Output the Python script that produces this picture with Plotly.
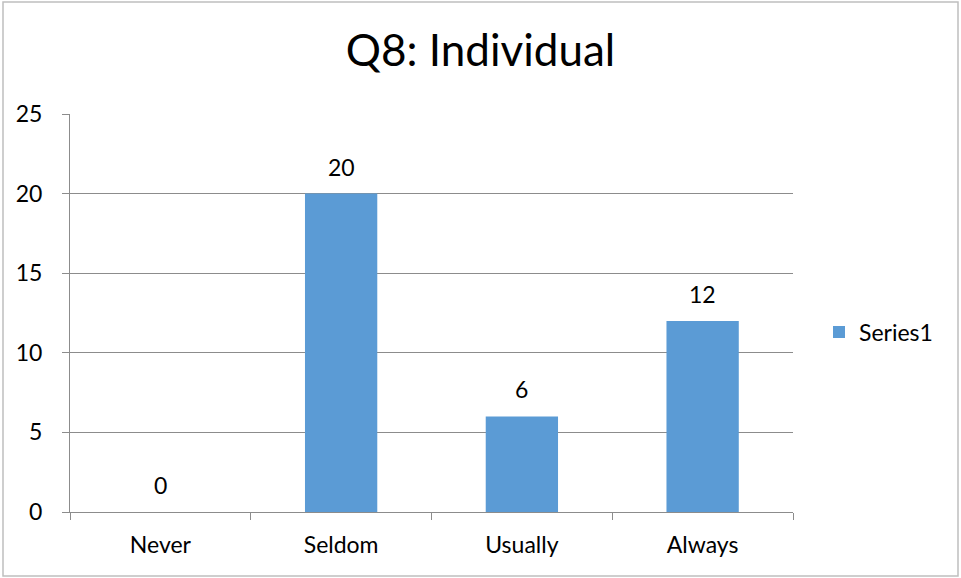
import plotly.graph_objects as go

categories = ["Never", "Seldom", "Usually", "Always"]
values = [0, 20, 6, 12]
series_name = "Series1"
title_text = "Q8: Individual"
y_ticks = [0, 5, 10, 15, 20, 25]

W, H = 961, 578
L, R, T, B = 70, 793, 114, 512
pw, ph = R - L, B - T

FONT = "Lato"
GRID = "#8C8C8C"
BAR = "#5B9BD5"

fig = go.Figure()
fig.add_trace(go.Bar(
    x=categories, y=values, name=series_name,
    marker=dict(color=BAR, line=dict(width=0)),
    width=0.4,
    showlegend=True,
))

# data labels placed above bars via the data axes
for c, v in zip(categories, values):
    fig.add_annotation(x=c, y=v, xref="x", yref="y", text=str(v), showarrow=False,
                       yanchor="middle", yshift=27,
                       font=dict(family=FONT, size=23, color="#000000"))

fig.update_layout(
    width=W, height=H,
    margin=dict(l=L, r=W - R, t=T, b=H - B, pad=0),
    paper_bgcolor="white", plot_bgcolor="white",
    title=dict(text=title_text, x=0.5, xanchor="center", y=1 - 51 / H, yanchor="middle",
               font=dict(family=FONT, size=44, color="#000000")),
    font=dict(family=FONT, color="#000000"),
    showlegend=True,
    legend=dict(x=(819 - L) / pw, xanchor="left", y=(B - 332) / ph, yanchor="middle",
                font=dict(family=FONT, size=23, color="#000000"),
                bgcolor="rgba(0,0,0,0)"),
    xaxis=dict(showgrid=False, showline=True, linecolor=GRID, linewidth=1,
               ticks="outside", tickson="boundaries", ticklen=7, tickcolor=GRID,
               ticklabelstandoff=12,
               tickfont=dict(family=FONT, size=23, color="#000000"),
               fixedrange=True),
    yaxis=dict(range=[0, 25], tickvals=y_ticks, showgrid=True, gridcolor=GRID, gridwidth=1,
               showline=True, linecolor=GRID, linewidth=1, zeroline=False,
               ticks="outside", ticklen=7, tickcolor=GRID,
               ticklabelstandoff=15,
               tickfont=dict(family=FONT, size=23, color="#000000"),
               fixedrange=True),
    shapes=[dict(type="rect", xref="paper", yref="paper",
                 x0=(3 - L) / pw, x1=(958 - L) / pw,
                 y0=(B - 576) / ph, y1=(B - 2) / ph,
                 line=dict(color="#BFBFBF", width=1.5), fillcolor="rgba(0,0,0,0)", layer="below")],
)

fig.write_html("out.html", config={"displayModeBar": False},
               post_script="document.body.style.margin='0';document.body.style.overflow='hidden';")
